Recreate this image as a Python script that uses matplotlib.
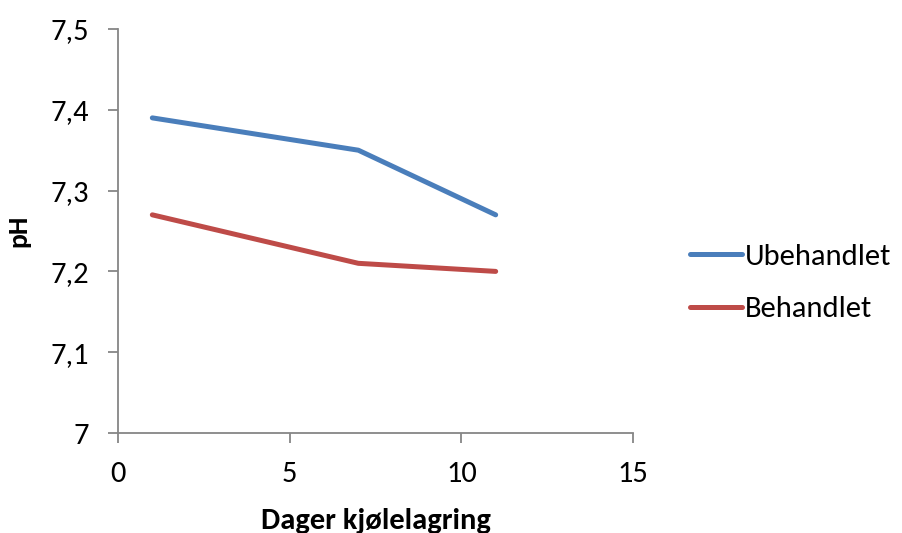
import matplotlib.pyplot as plt
from matplotlib.ticker import FuncFormatter

plt.rcParams['font.family'] = ['Carlito', 'Lato', 'DejaVu Sans']

dager = [1, 7, 11]
ubehandlet = [7.39, 7.35, 7.27]
behandlet = [7.27, 7.21, 7.20]
x_ticks = [0, 5, 10, 15]
y_ticks = [7.0, 7.1, 7.2, 7.3, 7.4, 7.5]

fig = plt.figure(figsize=(9.03, 5.33), dpi=100)
ax = fig.add_axes([118 / 903, 1 - 433 / 533, (633 - 118) / 903, (433 - 29) / 533])

ax.plot(dager, ubehandlet, color='#4A7EBB', lw=3.6, label='Ubehandlet', solid_capstyle='round')
ax.plot(dager, behandlet, color='#BE4B48', lw=3.6, label='Behandlet', solid_capstyle='round')

ax.set_xlim(0, 15)
ax.set_ylim(7.0, 7.5)
ax.set_xticks(x_ticks)
ax.set_yticks(y_ticks)

def komma(v, pos):
    s = f'{v:.1f}'.rstrip('0').rstrip('.')
    return s.replace('.', ',')

ax.yaxis.set_major_formatter(FuncFormatter(komma))

for side in ['top', 'right']:
    ax.spines[side].set_visible(False)
for side in ['left', 'bottom']:
    ax.spines[side].set_color('#868686')
    ax.spines[side].set_linewidth(1.3)
ax.tick_params(axis='both', colors='#868686', length=7, width=1.3, labelcolor='black', labelsize=22)
ax.tick_params(axis='x', pad=13)
ax.tick_params(axis='y', pad=14)

# the reference also has the x label cut at the bottom edge
ax.set_xlabel('Dager kjølelagring', fontsize=22, fontweight='bold', labelpad=15)
ax.set_ylabel('pH', fontsize=20, fontweight='bold', labelpad=14)

fig.legend(loc='center left', bbox_to_anchor=(690 / 903, 1 - 283 / 533), frameon=False,
           fontsize=22, handlelength=1.7, handletextpad=0.1, labelspacing=0.85,
           borderpad=0, borderaxespad=0)

fig.savefig('out.png', dpi=100)
